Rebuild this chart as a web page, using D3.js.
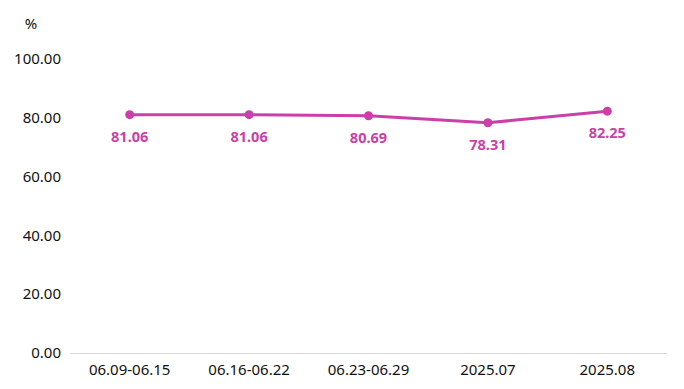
<!DOCTYPE html>
<html>
<head>
<meta charset="utf-8">
<script src="https://cdn.jsdelivr.net/npm/d3@7"></script>
<style>
  body { margin: 0; background: #fff; }
  text { font-family: "Noto Sans", "DejaVu Sans", sans-serif; }
</style>
</head>
<body>
<div id="chart"></div>
<script>
const categories = ['06.09-06.15', '06.16-06.22', '06.23-06.29', '2025.07', '2025.08'];
const values = [81.06, 81.06, 80.69, 78.31, 82.25];
const yTicks = [0, 20, 40, 60, 80, 100];

const width = 684, height = 389;
const lineColor = '#cc3fa8';

const svg = d3.select('#chart').append('svg')
  .attr('width', width)
  .attr('height', height);

const x = d3.scaleBand()
  .domain(categories)
  .range([70, 667]);

const y = d3.scaleLinear()
  .domain([0, 100])
  .range([353, 59]);

// y labels
svg.append('g').selectAll('text').data(yTicks).join('text')
  .attr('x', 61)
  .attr('y', d => y(d))
  .attr('dy', '0.35em')
  .attr('text-anchor', 'end')
  .attr('font-size', 15)
  .attr('fill', '#111')
  .text(d => d.toFixed(2));

svg.append('text')
  .attr('x', 31).attr('y', 24)
  .attr('dy', '0.35em')
  .attr('text-anchor', 'middle')
  .attr('font-size', 15)
  .attr('fill', '#111')
  .text('%');

// baseline
svg.append('line')
  .attr('x1', 70).attr('x2', 667)
  .attr('y1', y(0) + 0.5).attr('y2', y(0) + 0.5)
  .attr('stroke', '#d9d9d9');

// x labels
svg.append('g').selectAll('text').data(categories).join('text')
  .attr('x', d => x(d) + x.bandwidth() / 2)
  .attr('y', 370)
  .attr('dy', '0.35em')
  .attr('text-anchor', 'middle')
  .attr('font-size', 15)
  .attr('fill', '#111')
  .text(d => d);

const cx = (d, i) => x(categories[i]) + x.bandwidth() / 2;

// line
svg.append('path')
  .datum(values)
  .attr('fill', 'none')
  .attr('stroke', lineColor)
  .attr('stroke-width', 3)
  .attr('d', d3.line().x(cx).y(d => y(d)));

// dots
svg.selectAll('circle').data(values).join('circle')
  .attr('cx', cx)
  .attr('cy', d => y(d))
  .attr('r', 4.5)
  .attr('fill', lineColor);

// value labels
svg.append('g').selectAll('text').data(values).join('text')
  .attr('x', cx)
  .attr('y', d => y(d) + 22)
  .attr('dy', '0.35em')
  .attr('text-anchor', 'middle')
  .attr('font-size', 14.5)
  .attr('font-weight', 'bold')
  .attr('fill', lineColor)
  .text(d => d.toFixed(2));
</script>
</body>
</html>
